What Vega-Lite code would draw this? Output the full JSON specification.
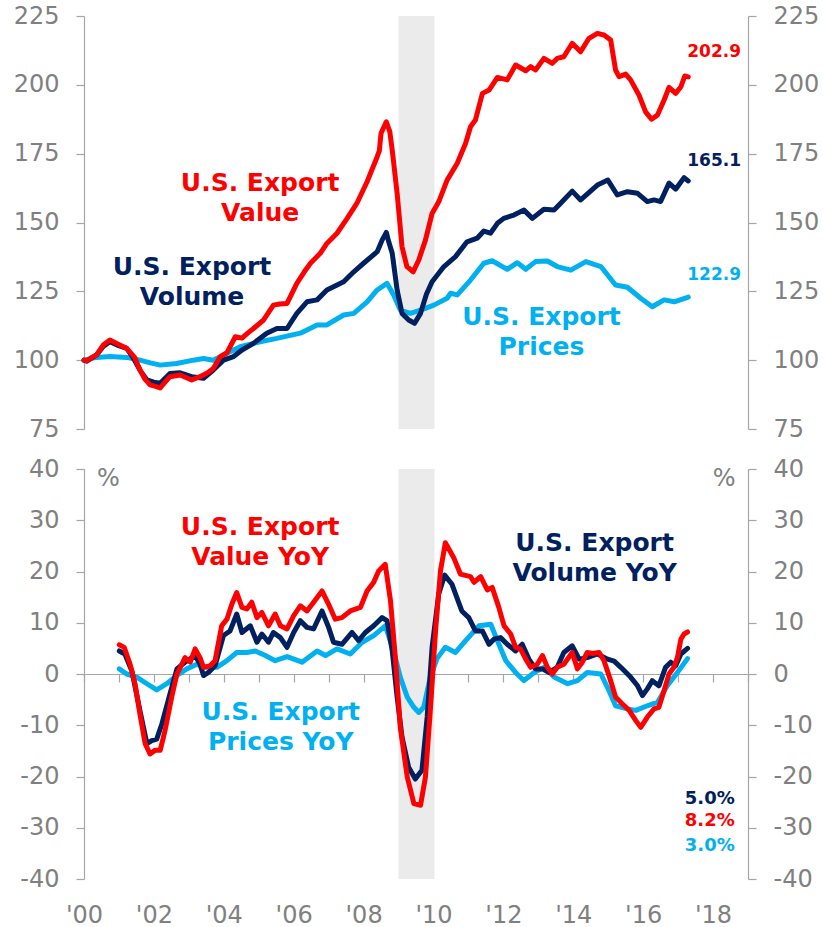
{
"$schema": "https://vega.github.io/schema/vega-lite/v6.json",
"background": "white",
"padding": {"left": 13, "top": 4, "right": 2, "bottom": 2},
"bounds": "flush",
"spacing": 40,
"config": {
  "view": {"stroke": null},
  "font": "DejaVu Sans",
  "axis": {"grid": false, "domainColor": "#A6A6A6", "tickColor": "#A6A6A6", "labelColor": "#808080", "labelFont": "DejaVu Sans", "labelFontSize": 24, "tickSize": 8, "labelPadding": 17, "title": null, "domainWidth": 1.2, "tickWidth": 1.2, "labelFlush": false, "labelOverlap": false}
},
"datasets": {
  "rec": [{"start": 2009.0, "end": 2010.03}],
  "top": [
    {"date":2000.00,"series":"Prices","value":100},{"date":2000.36,"series":"Prices","value":101.0},{"date":2000.74,"series":"Prices","value":101.3},{"date":2001.22,"series":"Prices","value":101},{"date":2001.60,"series":"Prices","value":100.0},{"date":2001.90,"series":"Prices","value":99},{"date":2002.18,"series":"Prices","value":98.2},{"date":2002.65,"series":"Prices","value":98.8},{"date":2003.13,"series":"Prices","value":100},{"date":2003.42,"series":"Prices","value":100.6},{"date":2003.70,"series":"Prices","value":100},{"date":2004.09,"series":"Prices","value":102.5},{"date":2004.47,"series":"Prices","value":104.9},{"date":2005.04,"series":"Prices","value":106.7},{"date":2005.52,"series":"Prices","value":107.9},{"date":2006.19,"series":"Prices","value":109.8},{"date":2006.67,"series":"Prices","value":112.8},{"date":2006.95,"series":"Prices","value":112.8},{"date":2007.43,"series":"Prices","value":116.4},{"date":2007.72,"series":"Prices","value":117.0},{"date":2008.10,"series":"Prices","value":121.2},{"date":2008.39,"series":"Prices","value":125.5},{"date":2008.67,"series":"Prices","value":127.9},{"date":2008.86,"series":"Prices","value":123.7},{"date":2009.05,"series":"Prices","value":118.2},{"date":2009.34,"series":"Prices","value":117.0},{"date":2009.63,"series":"Prices","value":118.2},{"date":2010.01,"series":"Prices","value":120.0},{"date":2010.39,"series":"Prices","value":122.5},{"date":2010.49,"series":"Prices","value":124.3},{"date":2010.68,"series":"Prices","value":123.7},{"date":2011.06,"series":"Prices","value":129.1},{"date":2011.44,"series":"Prices","value":135.2},{"date":2011.68,"series":"Prices","value":136.1},{"date":2012.11,"series":"Prices","value":133.0},{"date":2012.40,"series":"Prices","value":135.4},{"date":2012.64,"series":"Prices","value":133.0},{"date":2012.92,"series":"Prices","value":135.8},{"date":2013.26,"series":"Prices","value":136.0},{"date":2013.54,"series":"Prices","value":134},{"date":2013.93,"series":"Prices","value":132.7},{"date":2014.36,"series":"Prices","value":135.8},{"date":2014.79,"series":"Prices","value":134},{"date":2015.21,"series":"Prices","value":127.3},{"date":2015.55,"series":"Prices","value":126.5},{"date":2015.93,"series":"Prices","value":122.5},{"date":2016.26,"series":"Prices","value":119.4},{"date":2016.60,"series":"Prices","value":121.9},{"date":2016.89,"series":"Prices","value":121.2},{"date":2017.29,"series":"Prices","value":122.9},
    {"date":2000.00,"series":"Volume","value":100},{"date":2000.08,"series":"Volume","value":99.6},{"date":2000.36,"series":"Volume","value":101.9},{"date":2000.55,"series":"Volume","value":105},{"date":2000.74,"series":"Volume","value":106.7},{"date":2000.95,"series":"Volume","value":105.5},{"date":2001.22,"series":"Volume","value":104.3},{"date":2001.40,"series":"Volume","value":101},{"date":2001.60,"series":"Volume","value":96.4},{"date":2001.80,"series":"Volume","value":92.8},{"date":2002.00,"series":"Volume","value":92},{"date":2002.18,"series":"Volume","value":91.6},{"date":2002.46,"series":"Volume","value":95.2},{"date":2002.75,"series":"Volume","value":95.4},{"date":2003.08,"series":"Volume","value":94},{"date":2003.42,"series":"Volume","value":93.4},{"date":2003.70,"series":"Volume","value":96.4},{"date":2003.99,"series":"Volume","value":100},{"date":2004.28,"series":"Volume","value":101.3},{"date":2004.52,"series":"Volume","value":103.7},{"date":2004.85,"series":"Volume","value":106.1},{"date":2005.23,"series":"Volume","value":109.8},{"date":2005.52,"series":"Volume","value":111.5},{"date":2005.81,"series":"Volume","value":111.5},{"date":2006.09,"series":"Volume","value":117.0},{"date":2006.38,"series":"Volume","value":121.2},{"date":2006.67,"series":"Volume","value":121.9},{"date":2006.95,"series":"Volume","value":125.5},{"date":2007.14,"series":"Volume","value":126.7},{"date":2007.43,"series":"Volume","value":128.5},{"date":2007.72,"series":"Volume","value":132.1},{"date":2008.00,"series":"Volume","value":135.2},{"date":2008.39,"series":"Volume","value":139.4},{"date":2008.53,"series":"Volume","value":143.6},{"date":2008.65,"series":"Volume","value":146.4},{"date":2008.72,"series":"Volume","value":143},{"date":2008.82,"series":"Volume","value":138.8},{"date":2008.96,"series":"Volume","value":125.5},{"date":2009.10,"series":"Volume","value":117.0},{"date":2009.29,"series":"Volume","value":114.6},{"date":2009.46,"series":"Volume","value":113.4},{"date":2009.63,"series":"Volume","value":117},{"date":2009.80,"series":"Volume","value":124},{"date":2009.96,"series":"Volume","value":128.5},{"date":2010.30,"series":"Volume","value":134},{"date":2010.63,"series":"Volume","value":137.6},{"date":2010.96,"series":"Volume","value":143.0},{"date":2011.25,"series":"Volume","value":144.3},{"date":2011.44,"series":"Volume","value":146.9},{"date":2011.63,"series":"Volume","value":146.1},{"date":2011.83,"series":"Volume","value":149.7},{"date":2012.01,"series":"Volume","value":151.5},{"date":2012.30,"series":"Volume","value":152.7},{"date":2012.59,"series":"Volume","value":154.5},{"date":2012.83,"series":"Volume","value":151.5},{"date":2013.16,"series":"Volume","value":154.8},{"date":2013.45,"series":"Volume","value":154.5},{"date":2013.64,"series":"Volume","value":157},{"date":2013.97,"series":"Volume","value":161.4},{"date":2014.21,"series":"Volume","value":158.2},{"date":2014.69,"series":"Volume","value":163.6},{"date":2014.99,"series":"Volume","value":165.4},{"date":2015.26,"series":"Volume","value":160},{"date":2015.55,"series":"Volume","value":161.2},{"date":2015.84,"series":"Volume","value":160.6},{"date":2016.12,"series":"Volume","value":157.6},{"date":2016.31,"series":"Volume","value":158.2},{"date":2016.50,"series":"Volume","value":157.6},{"date":2016.74,"series":"Volume","value":164.3},{"date":2016.93,"series":"Volume","value":162.1},{"date":2017.17,"series":"Volume","value":166.3},{"date":2017.29,"series":"Volume","value":165.1},
    {"date":2000.00,"series":"Value","value":100},{"date":2000.08,"series":"Value","value":99.8},{"date":2000.20,"series":"Value","value":100.8},{"date":2000.36,"series":"Value","value":101.9},{"date":2000.55,"series":"Value","value":105.5},{"date":2000.74,"series":"Value","value":107.3},{"date":2000.95,"series":"Value","value":106.0},{"date":2001.22,"series":"Value","value":104.3},{"date":2001.45,"series":"Value","value":101},{"date":2001.60,"series":"Value","value":96.5},{"date":2001.75,"series":"Value","value":93},{"date":2001.89,"series":"Value","value":91},{"date":2002.05,"series":"Value","value":90.5},{"date":2002.18,"series":"Value","value":89.9},{"date":2002.32,"series":"Value","value":92},{"date":2002.46,"series":"Value","value":94.0},{"date":2002.75,"series":"Value","value":94.6},{"date":2002.95,"series":"Value","value":93.5},{"date":2003.08,"series":"Value","value":92.8},{"date":2003.32,"series":"Value","value":94},{"date":2003.55,"series":"Value","value":95.5},{"date":2003.70,"series":"Value","value":97.0},{"date":2003.90,"series":"Value","value":101.3},{"date":2004.09,"series":"Value","value":102.7},{"date":2004.33,"series":"Value","value":108.5},{"date":2004.52,"series":"Value","value":108},{"date":2004.70,"series":"Value","value":110},{"date":2004.85,"series":"Value","value":111.5},{"date":2005.14,"series":"Value","value":114.6},{"date":2005.42,"series":"Value","value":120},{"date":2005.60,"series":"Value","value":120.4},{"date":2005.81,"series":"Value","value":120.6},{"date":2006.09,"series":"Value","value":127.9},{"date":2006.30,"series":"Value","value":132},{"date":2006.48,"series":"Value","value":135.2},{"date":2006.76,"series":"Value","value":138.8},{"date":2006.95,"series":"Value","value":142.4},{"date":2007.24,"series":"Value","value":146.1},{"date":2007.53,"series":"Value","value":151.5},{"date":2007.81,"series":"Value","value":157.0},{"date":2008.10,"series":"Value","value":164.8},{"date":2008.39,"series":"Value","value":173.9},{"date":2008.45,"series":"Value","value":176},{"date":2008.50,"series":"Value","value":182.4},{"date":2008.65,"series":"Value","value":186.6},{"date":2008.75,"series":"Value","value":183},{"date":2008.82,"series":"Value","value":176.3},{"date":2008.96,"series":"Value","value":160.6},{"date":2009.10,"series":"Value","value":141.2},{"date":2009.24,"series":"Value","value":134},{"date":2009.42,"series":"Value","value":132.1},{"date":2009.58,"series":"Value","value":136.4},{"date":2009.77,"series":"Value","value":143.6},{"date":2009.96,"series":"Value","value":153.3},{"date":2010.15,"series":"Value","value":157.5},{"date":2010.39,"series":"Value","value":165.4},{"date":2010.68,"series":"Value","value":171.5},{"date":2010.92,"series":"Value","value":178.8},{"date":2011.06,"series":"Value","value":184.8},{"date":2011.20,"series":"Value","value":187.2},{"date":2011.40,"series":"Value","value":196.9},{"date":2011.59,"series":"Value","value":198.1},{"date":2011.83,"series":"Value","value":202.7},{"date":2012.11,"series":"Value","value":201.8},{"date":2012.35,"series":"Value","value":207.2},{"date":2012.64,"series":"Value","value":205.1},{"date":2012.78,"series":"Value","value":206.6},{"date":2012.92,"series":"Value","value":205.4},{"date":2013.16,"series":"Value","value":209.6},{"date":2013.40,"series":"Value","value":207.8},{"date":2013.54,"series":"Value","value":209.6},{"date":2013.73,"series":"Value","value":210.2},{"date":2013.97,"series":"Value","value":215.1},{"date":2014.21,"series":"Value","value":212.0},{"date":2014.45,"series":"Value","value":216.9},{"date":2014.69,"series":"Value","value":218.7},{"date":2014.88,"series":"Value","value":218.1},{"date":2015.07,"series":"Value","value":216.3},{"date":2015.21,"series":"Value","value":205.4},{"date":2015.31,"series":"Value","value":203.0},{"date":2015.50,"series":"Value","value":203.9},{"date":2015.64,"series":"Value","value":201.8},{"date":2015.88,"series":"Value","value":196.3},{"date":2016.07,"series":"Value","value":190.2},{"date":2016.24,"series":"Value","value":187.5},{"date":2016.41,"series":"Value","value":189},{"date":2016.60,"series":"Value","value":194.5},{"date":2016.74,"series":"Value","value":199.1},{"date":2016.93,"series":"Value","value":196.9},{"date":2017.08,"series":"Value","value":199.3},{"date":2017.19,"series":"Value","value":203.2},{"date":2017.29,"series":"Value","value":202.9}
  ],
  "yoy": [
    {"date":2001.01,"series":"Prices","value":1.0},{"date":2001.22,"series":"Prices","value":0},{"date":2001.51,"series":"Prices","value":-0.6},{"date":2001.80,"series":"Prices","value":-1.9},{"date":2002.08,"series":"Prices","value":-3.1},{"date":2002.37,"series":"Prices","value":-1.9},{"date":2002.66,"series":"Prices","value":-0.3},{"date":2002.94,"series":"Prices","value":1.0},{"date":2003.23,"series":"Prices","value":1.9},{"date":2003.51,"series":"Prices","value":1.3},{"date":2003.80,"series":"Prices","value":1.3},{"date":2004.09,"series":"Prices","value":2.6},{"date":2004.37,"series":"Prices","value":4.2},{"date":2004.66,"series":"Prices","value":4.2},{"date":2004.90,"series":"Prices","value":4.5},{"date":2005.19,"series":"Prices","value":3.6},{"date":2005.47,"series":"Prices","value":2.6},{"date":2005.81,"series":"Prices","value":3.4},{"date":2006.24,"series":"Prices","value":2.3},{"date":2006.67,"series":"Prices","value":4.5},{"date":2006.91,"series":"Prices","value":3.6},{"date":2007.24,"series":"Prices","value":4.9},{"date":2007.62,"series":"Prices","value":3.9},{"date":2007.96,"series":"Prices","value":6.2},{"date":2008.29,"series":"Prices","value":7.5},{"date":2008.62,"series":"Prices","value":9.4},{"date":2008.86,"series":"Prices","value":4.5},{"date":2009.05,"series":"Prices","value":-0.6},{"date":2009.25,"series":"Prices","value":-4.5},{"date":2009.44,"series":"Prices","value":-6.5},{"date":2009.58,"series":"Prices","value":-7.5},{"date":2009.72,"series":"Prices","value":-6.5},{"date":2009.91,"series":"Prices","value":-0.6},{"date":2010.10,"series":"Prices","value":3.0},{"date":2010.34,"series":"Prices","value":5.2},{"date":2010.63,"series":"Prices","value":4.2},{"date":2010.92,"series":"Prices","value":6.5},{"date":2011.30,"series":"Prices","value":9.4},{"date":2011.64,"series":"Prices","value":9.7},{"date":2011.83,"series":"Prices","value":6.5},{"date":2012.07,"series":"Prices","value":2.6},{"date":2012.35,"series":"Prices","value":0.3},{"date":2012.59,"series":"Prices","value":-1.3},{"date":2012.88,"series":"Prices","value":0.3},{"date":2013.17,"series":"Prices","value":1.3},{"date":2013.45,"series":"Prices","value":-0.6},{"date":2013.84,"series":"Prices","value":-1.9},{"date":2014.12,"series":"Prices","value":-1.3},{"date":2014.40,"series":"Prices","value":0.3},{"date":2014.79,"series":"Prices","value":0},{"date":2015.02,"series":"Prices","value":-3.2},{"date":2015.21,"series":"Prices","value":-6.2},{"date":2015.55,"series":"Prices","value":-6.8},{"date":2015.79,"series":"Prices","value":-7.1},{"date":2016.12,"series":"Prices","value":-6.2},{"date":2016.41,"series":"Prices","value":-5.5},{"date":2016.69,"series":"Prices","value":-2.3},{"date":2016.98,"series":"Prices","value":0.3},{"date":2017.27,"series":"Prices","value":3.0},
    {"date":2001.01,"series":"Volume","value":4.5},{"date":2001.17,"series":"Volume","value":3.9},{"date":2001.37,"series":"Volume","value":0.6},{"date":2001.60,"series":"Volume","value":-7.1},{"date":2001.80,"series":"Volume","value":-13.6},{"date":2001.94,"series":"Volume","value":-13.0},{"date":2002.08,"series":"Volume","value":-12.7},{"date":2002.23,"series":"Volume","value":-9.7},{"date":2002.46,"series":"Volume","value":-3.9},{"date":2002.66,"series":"Volume","value":1.0},{"date":2002.89,"series":"Volume","value":2.3},{"date":2003.18,"series":"Volume","value":3.6},{"date":2003.32,"series":"Volume","value":1.9},{"date":2003.42,"series":"Volume","value":-0.3},{"date":2003.56,"series":"Volume","value":0.3},{"date":2003.75,"series":"Volume","value":1.6},{"date":2003.99,"series":"Volume","value":7.5},{"date":2004.18,"series":"Volume","value":8.4},{"date":2004.37,"series":"Volume","value":11.7},{"date":2004.52,"series":"Volume","value":8.1},{"date":2004.76,"series":"Volume","value":9.4},{"date":2004.95,"series":"Volume","value":6.2},{"date":2005.09,"series":"Volume","value":7.8},{"date":2005.28,"series":"Volume","value":6.2},{"date":2005.42,"series":"Volume","value":8.1},{"date":2005.62,"series":"Volume","value":7.1},{"date":2005.81,"series":"Volume","value":5.2},{"date":2006.00,"series":"Volume","value":8.1},{"date":2006.19,"series":"Volume","value":10.4},{"date":2006.38,"series":"Volume","value":9.1},{"date":2006.57,"series":"Volume","value":8.8},{"date":2006.81,"series":"Volume","value":12.3},{"date":2007.00,"series":"Volume","value":9.1},{"date":2007.14,"series":"Volume","value":6.2},{"date":2007.38,"series":"Volume","value":5.8},{"date":2007.67,"series":"Volume","value":8.1},{"date":2007.86,"series":"Volume","value":6.5},{"date":2008.05,"series":"Volume","value":8.1},{"date":2008.29,"series":"Volume","value":9.4},{"date":2008.53,"series":"Volume","value":11.0},{"date":2008.67,"series":"Volume","value":10.4},{"date":2008.82,"series":"Volume","value":4.5},{"date":2008.96,"series":"Volume","value":-4.5},{"date":2009.10,"series":"Volume","value":-12.3},{"date":2009.29,"series":"Volume","value":-18.2},{"date":2009.48,"series":"Volume","value":-20.5},{"date":2009.67,"series":"Volume","value":-18.8},{"date":2009.82,"series":"Volume","value":-8.4},{"date":2009.96,"series":"Volume","value":5.2},{"date":2010.15,"series":"Volume","value":15.6},{"date":2010.32,"series":"Volume","value":19.3},{"date":2010.53,"series":"Volume","value":17.5},{"date":2010.81,"series":"Volume","value":12.3},{"date":2011.01,"series":"Volume","value":11.0},{"date":2011.20,"series":"Volume","value":8.4},{"date":2011.40,"series":"Volume","value":8.4},{"date":2011.59,"series":"Volume","value":5.8},{"date":2011.73,"series":"Volume","value":6.8},{"date":2011.92,"series":"Volume","value":7.1},{"date":2012.11,"series":"Volume","value":5.8},{"date":2012.35,"series":"Volume","value":4.5},{"date":2012.54,"series":"Volume","value":5.8},{"date":2012.73,"series":"Volume","value":2.9},{"date":2012.92,"series":"Volume","value":1.0},{"date":2013.12,"series":"Volume","value":1.0},{"date":2013.31,"series":"Volume","value":0.3},{"date":2013.54,"series":"Volume","value":1.3},{"date":2013.73,"series":"Volume","value":4.2},{"date":2013.97,"series":"Volume","value":5.5},{"date":2014.17,"series":"Volume","value":2.9},{"date":2014.40,"series":"Volume","value":3.2},{"date":2014.69,"series":"Volume","value":3.9},{"date":2014.98,"series":"Volume","value":2.9},{"date":2015.17,"series":"Volume","value":2.5},{"date":2015.36,"series":"Volume","value":1.3},{"date":2015.64,"series":"Volume","value":-0.6},{"date":2015.84,"series":"Volume","value":-2.3},{"date":2015.98,"series":"Volume","value":-4.2},{"date":2016.12,"series":"Volume","value":-2.9},{"date":2016.26,"series":"Volume","value":-1.3},{"date":2016.45,"series":"Volume","value":-2.3},{"date":2016.64,"series":"Volume","value":1.3},{"date":2016.79,"series":"Volume","value":2.3},{"date":2016.93,"series":"Volume","value":1.6},{"date":2017.08,"series":"Volume","value":3.9},{"date":2017.27,"series":"Volume","value":5.0},
    {"date":2001.01,"series":"Value","value":5.7},{"date":2001.15,"series":"Value","value":5.2},{"date":2001.32,"series":"Value","value":1.9},{"date":2001.46,"series":"Value","value":-1.9},{"date":2001.60,"series":"Value","value":-7.8},{"date":2001.75,"series":"Value","value":-13.6},{"date":2001.89,"series":"Value","value":-15.6},{"date":2002.03,"series":"Value","value":-14.9},{"date":2002.18,"series":"Value","value":-14.9},{"date":2002.32,"series":"Value","value":-11.0},{"date":2002.51,"series":"Value","value":-4.5},{"date":2002.66,"series":"Value","value":0},{"date":2002.80,"series":"Value","value":1.9},{"date":2002.89,"series":"Value","value":3.2},{"date":2003.04,"series":"Value","value":2.3},{"date":2003.18,"series":"Value","value":4.9},{"date":2003.32,"series":"Value","value":3.2},{"date":2003.42,"series":"Value","value":1.3},{"date":2003.61,"series":"Value","value":1.6},{"date":2003.75,"series":"Value","value":2.6},{"date":2003.94,"series":"Value","value":9.4},{"date":2004.09,"series":"Value","value":10.7},{"date":2004.23,"series":"Value","value":13.6},{"date":2004.37,"series":"Value","value":15.9},{"date":2004.52,"series":"Value","value":13.0},{"date":2004.66,"series":"Value","value":12.7},{"date":2004.80,"series":"Value","value":14.0},{"date":2004.95,"series":"Value","value":11.0},{"date":2005.09,"series":"Value","value":12.0},{"date":2005.28,"series":"Value","value":9.4},{"date":2005.47,"series":"Value","value":11.7},{"date":2005.62,"series":"Value","value":9.4},{"date":2005.81,"series":"Value","value":8.8},{"date":2006.00,"series":"Value","value":11.4},{"date":2006.19,"series":"Value","value":13.3},{"date":2006.38,"series":"Value","value":12.3},{"date":2006.57,"series":"Value","value":14.0},{"date":2006.81,"series":"Value","value":16.2},{"date":2007.00,"series":"Value","value":13.6},{"date":2007.19,"series":"Value","value":10.7},{"date":2007.38,"series":"Value","value":11.0},{"date":2007.62,"series":"Value","value":12.3},{"date":2007.91,"series":"Value","value":13.0},{"date":2008.10,"series":"Value","value":16.2},{"date":2008.29,"series":"Value","value":17.9},{"date":2008.43,"series":"Value","value":20.1},{"date":2008.62,"series":"Value","value":21.4},{"date":2008.77,"series":"Value","value":14.3},{"date":2008.91,"series":"Value","value":3.2},{"date":2009.05,"series":"Value","value":-10.4},{"date":2009.25,"series":"Value","value":-20.1},{"date":2009.44,"series":"Value","value":-25.3},{"date":2009.63,"series":"Value","value":-25.6},{"date":2009.77,"series":"Value","value":-20.1},{"date":2009.91,"series":"Value","value":-7.1},{"date":2010.06,"series":"Value","value":8.4},{"date":2010.20,"series":"Value","value":20.1},{"date":2010.34,"series":"Value","value":25.6},{"date":2010.58,"series":"Value","value":22.7},{"date":2010.77,"series":"Value","value":19.5},{"date":2011.06,"series":"Value","value":19.0},{"date":2011.16,"series":"Value","value":17.9},{"date":2011.35,"series":"Value","value":19.0},{"date":2011.54,"series":"Value","value":16.4},{"date":2011.68,"series":"Value","value":16.9},{"date":2011.87,"series":"Value","value":13.0},{"date":2012.02,"series":"Value","value":9.4},{"date":2012.21,"series":"Value","value":7.8},{"date":2012.35,"series":"Value","value":5.2},{"date":2012.49,"series":"Value","value":4.9},{"date":2012.64,"series":"Value","value":2.9},{"date":2012.78,"series":"Value","value":1.3},{"date":2012.97,"series":"Value","value":1.9},{"date":2013.12,"series":"Value","value":3.6},{"date":2013.26,"series":"Value","value":1.3},{"date":2013.40,"series":"Value","value":0},{"date":2013.54,"series":"Value","value":1.3},{"date":2013.73,"series":"Value","value":1.9},{"date":2013.97,"series":"Value","value":4.2},{"date":2014.12,"series":"Value","value":1.0},{"date":2014.26,"series":"Value","value":2.3},{"date":2014.40,"series":"Value","value":4.2},{"date":2014.55,"series":"Value","value":4.0},{"date":2014.74,"series":"Value","value":4.2},{"date":2014.88,"series":"Value","value":2.6},{"date":2015.07,"series":"Value","value":-1.3},{"date":2015.21,"series":"Value","value":-4.5},{"date":2015.40,"series":"Value","value":-5.8},{"date":2015.60,"series":"Value","value":-7.1},{"date":2015.79,"series":"Value","value":-9.1},{"date":2015.93,"series":"Value","value":-10.4},{"date":2016.12,"series":"Value","value":-8.4},{"date":2016.31,"series":"Value","value":-6.8},{"date":2016.45,"series":"Value","value":-6.5},{"date":2016.60,"series":"Value","value":-3.2},{"date":2016.74,"series":"Value","value":0},{"date":2016.88,"series":"Value","value":1.3},{"date":2016.98,"series":"Value","value":3.2},{"date":2017.08,"series":"Value","value":6.8},{"date":2017.17,"series":"Value","value":7.8},{"date":2017.27,"series":"Value","value":8.2}
  ],
  "topnames": [
    {"x": 2005.04, "y": 164.3, "series": "Value", "text": "U.S. Export\nValue"},
    {"x": 2003.09, "y": 133.8, "series": "Volume", "text": "U.S. Export\nVolume"},
    {"x": 2013.09, "y": 115.7, "series": "Prices", "text": "U.S. Export\nPrices"}
  ],
  "topvals": [
    {"x": 2018.80, "y": 212.0, "series": "Value", "text": "202.9"},
    {"x": 2018.80, "y": 172.4, "series": "Volume", "text": "165.1"},
    {"x": 2018.80, "y": 130.9, "series": "Prices", "text": "122.9"}
  ],
  "botnames": [
    {"x": 2005.04, "y": 28.6, "series": "Value", "text": "U.S. Export\nValue YoY"},
    {"x": 2014.61, "y": 25.5, "series": "Volume", "text": "U.S. Export\nVolume YoY"},
    {"x": 2005.63, "y": -7.5, "series": "Prices", "text": "U.S. Export\nPrices YoY"}
  ],
  "botvals": [
    {"x": 2018.62, "y": -24.3, "series": "Volume", "text": "5.0%"},
    {"x": 2018.62, "y": -28.6, "series": "Value", "text": "8.2%"},
    {"x": 2018.62, "y": -33.5, "series": "Prices", "text": "3.0%"}
  ],
  "pct": [
    {"x": 2000.70, "y": 38.0, "text": "%"},
    {"x": 2018.32, "y": 38.0, "text": "%"}
  ]
},
"vconcat": [
  {
    "width": 664, "height": 413,
    "layer": [
      {"data": {"name": "rec"}, "mark": {"type": "rect", "color": "#EBEBEB"},
       "encoding": {"x": {"field": "start", "type": "quantitative", "scale": {"domain": [2000, 2019], "nice": false, "zero": false}, "axis": null}, "x2": {"field": "end"}}},
      {"data": {"name": "top"}, "mark": {"type": "line", "strokeJoin": "round", "strokeCap": "round"},
       "encoding": {
         "x": {"field": "date", "type": "quantitative", "axis": null},
         "y": {"field": "value", "type": "quantitative", "scale": {"domain": [75, 225], "nice": false, "zero": false}, "axis": {"orient": "left", "values": [75,100,125,150,175,200,225], "labelExpr": "toString(datum.value)"}},
         "color": {"field": "series", "type": "nominal", "scale": {"domain": ["Prices","Volume","Value"], "range": ["#00B0F0","#002060","#FF0000"]}, "legend": null},
         "size": {"field": "series", "type": "nominal", "scale": {"domain": ["Prices","Volume","Value"], "range": [5, 5, 6]}, "legend": null}
       }},
      {"data": {"name": "topnames"}, "mark": {"type": "text", "fontSize": 25, "fontWeight": "bold", "align": "center", "baseline": "middle", "lineBreak": "\n", "lineHeight": 30, "font": "DejaVu Sans"},
       "encoding": {
         "x": {"field": "x", "type": "quantitative", "axis": null},
         "y": {"field": "y", "type": "quantitative", "axis": null},
         "text": {"field": "text"},
         "color": {"field": "series", "type": "nominal", "scale": {"domain": ["Prices","Volume","Value"], "range": ["#00B0F0","#002060","#FF0000"]}, "legend": null}
       }},
      {"data": {"name": "topvals"}, "mark": {"type": "text", "fontSize": 17, "fontWeight": "bold", "align": "right", "baseline": "middle", "font": "DejaVu Sans"},
       "encoding": {
         "x": {"field": "x", "type": "quantitative", "axis": null},
         "y": {"field": "y", "type": "quantitative", "axis": {"orient": "right", "values": [75,100,125,150,175,200,225], "labelExpr": "toString(datum.value)"}},
         "text": {"field": "text"},
         "color": {"field": "series", "type": "nominal", "scale": {"domain": ["Prices","Volume","Value"], "range": ["#00B0F0","#002060","#FF0000"]}, "legend": null}
       }}
    ],
    "resolve": {"axis": {"x": "independent", "y": "independent"}}
  },
  {
    "width": 664, "height": 410,
    "layer": [
      {"data": {"name": "rec"}, "mark": {"type": "rect", "color": "#EBEBEB"},
       "encoding": {"x": {"field": "start", "type": "quantitative", "scale": {"domain": [2000, 2019], "nice": false, "zero": false},
         "axis": {"orient": "top", "offset": -205, "tickSize": -8, "labels": false, "values": [2000,2001,2002,2003,2004,2005,2006,2007,2008,2009,2010,2011,2012,2013,2014,2015,2016,2017,2018,2019]}}, "x2": {"field": "end"}}},
      {"data": {"name": "yoy"}, "mark": {"type": "line", "strokeJoin": "round", "strokeCap": "round"},
       "encoding": {
         "x": {"field": "date", "type": "quantitative", "axis": {"orient": "bottom", "domain": false, "ticks": false, "labelPadding": 24, "values": [2000,2002,2004,2006,2008,2010,2012,2014,2016,2018], "labelExpr": "\"'\" + format(datum.value % 100, '02d')"}},
         "y": {"field": "value", "type": "quantitative", "scale": {"domain": [-40, 40], "nice": false, "zero": false}, "axis": {"orient": "left", "values": [-40,-30,-20,-10,0,10,20,30,40], "labelExpr": "toString(datum.value)"}},
         "color": {"field": "series", "type": "nominal", "scale": {"domain": ["Prices","Volume","Value"], "range": ["#00B0F0","#002060","#FF0000"]}, "legend": null},
         "size": {"field": "series", "type": "nominal", "scale": {"domain": ["Prices","Volume","Value"], "range": [5, 5, 6]}, "legend": null}
       }},
      {"data": {"name": "botnames"}, "mark": {"type": "text", "fontSize": 25, "fontWeight": "bold", "align": "center", "baseline": "middle", "lineBreak": "\n", "lineHeight": 30, "font": "DejaVu Sans"},
       "encoding": {
         "x": {"field": "x", "type": "quantitative", "axis": null},
         "y": {"field": "y", "type": "quantitative", "axis": null},
         "text": {"field": "text"},
         "color": {"field": "series", "type": "nominal", "scale": {"domain": ["Prices","Volume","Value"], "range": ["#00B0F0","#002060","#FF0000"]}, "legend": null}
       }},
      {"data": {"name": "botvals"}, "mark": {"type": "text", "fontSize": 18, "fontWeight": "bold", "align": "right", "baseline": "middle", "font": "DejaVu Sans"},
       "encoding": {
         "x": {"field": "x", "type": "quantitative", "axis": null},
         "y": {"field": "y", "type": "quantitative", "axis": {"orient": "right", "values": [-40,-30,-20,-10,0,10,20,30,40], "labelExpr": "toString(datum.value)"}},
         "text": {"field": "text"},
         "color": {"field": "series", "type": "nominal", "scale": {"domain": ["Prices","Volume","Value"], "range": ["#00B0F0","#002060","#FF0000"]}, "legend": null}
       }},
      {"data": {"name": "pct"}, "mark": {"type": "text", "fontSize": 24, "align": "center", "baseline": "middle", "color": "#808080", "font": "DejaVu Sans"},
       "encoding": {
         "x": {"field": "x", "type": "quantitative", "axis": null},
         "y": {"field": "y", "type": "quantitative", "axis": null},
         "text": {"field": "text"}
       }}
    ],
    "resolve": {"axis": {"x": "independent", "y": "independent"}}
  }
]
}
